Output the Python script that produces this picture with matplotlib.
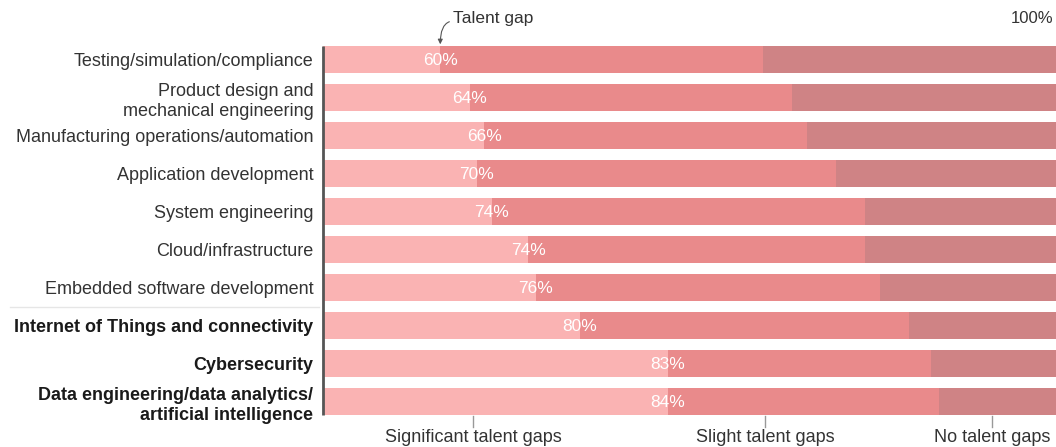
import matplotlib
matplotlib.use("Agg")
import matplotlib.pyplot as plt
import numpy as np

plt.rcParams["font.family"] = ["Liberation Sans", "DejaVu Sans"]

# Domains, top to bottom
categories = [
    "Testing/simulation/compliance",
    "Product design and\nmechanical engineering",
    "Manufacturing operations/automation",
    "Application development",
    "System engineering",
    "Cloud/infrastructure",
    "Embedded software development",
    "Internet of Things and connectivity",
    "Cybersecurity",
    "Data engineering/data analytics/\nartificial intelligence",
]
bold_categories = [
    "Internet of Things and connectivity",
    "Cybersecurity",
    "Data engineering/data analytics/\nartificial intelligence",
]

# Share of respondents, %
talent_gap = [60, 64, 66, 70, 74, 74, 76, 80, 83, 84]   # significant + slight
significant = [16, 20, 22, 21, 23, 28, 29, 35, 47, 47]
slight = [g - s for g, s in zip(talent_gap, significant)]
no_gap = [100 - g for g in talent_gap]

segment_names = ["Significant talent gaps", "Slight talent gaps", "No talent gaps"]

c_sig = "#FAB3B3"
c_slight = "#E98A8B"
c_none = "#CF8385"

fig = plt.figure(figsize=(10.56, 4.47), dpi=100)
W, H = 1056, 447
left_px, right_px = 323, 1056
top_px, bot_px = 40.5, 420.5
ax = fig.add_axes([left_px / W, 1 - bot_px / H, (right_px - left_px) / W, (bot_px - top_px) / H])

y = np.arange(len(categories))
bh = 0.72
ax.barh(y, significant, height=bh, color=c_sig, linewidth=0)
ax.barh(y, slight, left=significant, height=bh, color=c_slight, linewidth=0)
ax.barh(y, no_gap, left=talent_gap, height=bh, color=c_none, linewidth=0)

for yi, s, g in zip(y, significant, talent_gap):
    ax.text(s, yi + 0.02, f"{g}%", ha="center", va="center", color="white", fontsize=12.5)

ax.set_xlim(0, 100)
ax.set_ylim(len(categories) - 0.5, -0.5)
for sp in ax.spines.values():
    sp.set_visible(False)
ax.set_xticks([])
ax.set_yticks(y)
ax.set_yticklabels(categories, fontsize=13, color="#333333", linespacing=1.3)
ax.tick_params(axis="y", length=0, pad=7)
for lbl in ax.get_yticklabels():
    if lbl.get_text() in bold_categories:
        lbl.set_fontweight("bold")
        lbl.set_color("#1a1a1a")

# vertical baseline
ax.vlines(0, -bh / 2, len(categories) - 1 + bh / 2, color="#555555", lw=2, clip_on=False)

# separator between the two groups of domains
ax.plot([-42.7, -0.5], [6.5, 6.5], color="#e6e6e6", lw=1, clip_on=False)

# segment legend below the bars
legend_x = [20.5, 60.3, 91.3]
yb = len(categories) - 1 + bh / 2
for lx, name in zip(legend_x, segment_names):
    ax.plot([lx, lx], [yb + 0.02, yb + 0.32], color="#999999", lw=1, clip_on=False)
    ax.text(lx, yb + 0.6, name, ha="center", va="center", fontsize=13, color="#333333")

# annotation above the bars
ax.annotate("Talent gap", xy=(significant[0], -0.4), xytext=(17.8, -1.09),
            ha="left", va="center", fontsize=12.5, color="#333333",
            arrowprops=dict(arrowstyle="-|>", color="#555555", lw=0.8,
                            shrinkA=1, shrinkB=0, mutation_scale=7,
                            relpos=(0.0, 0.3),
                            connectionstyle="angle3,angleA=0,angleB=90"))
ax.text(99.6, -1.09, "100%", ha="right", va="center", fontsize=12, color="#333333")

fig.savefig("out.png", dpi=100)
